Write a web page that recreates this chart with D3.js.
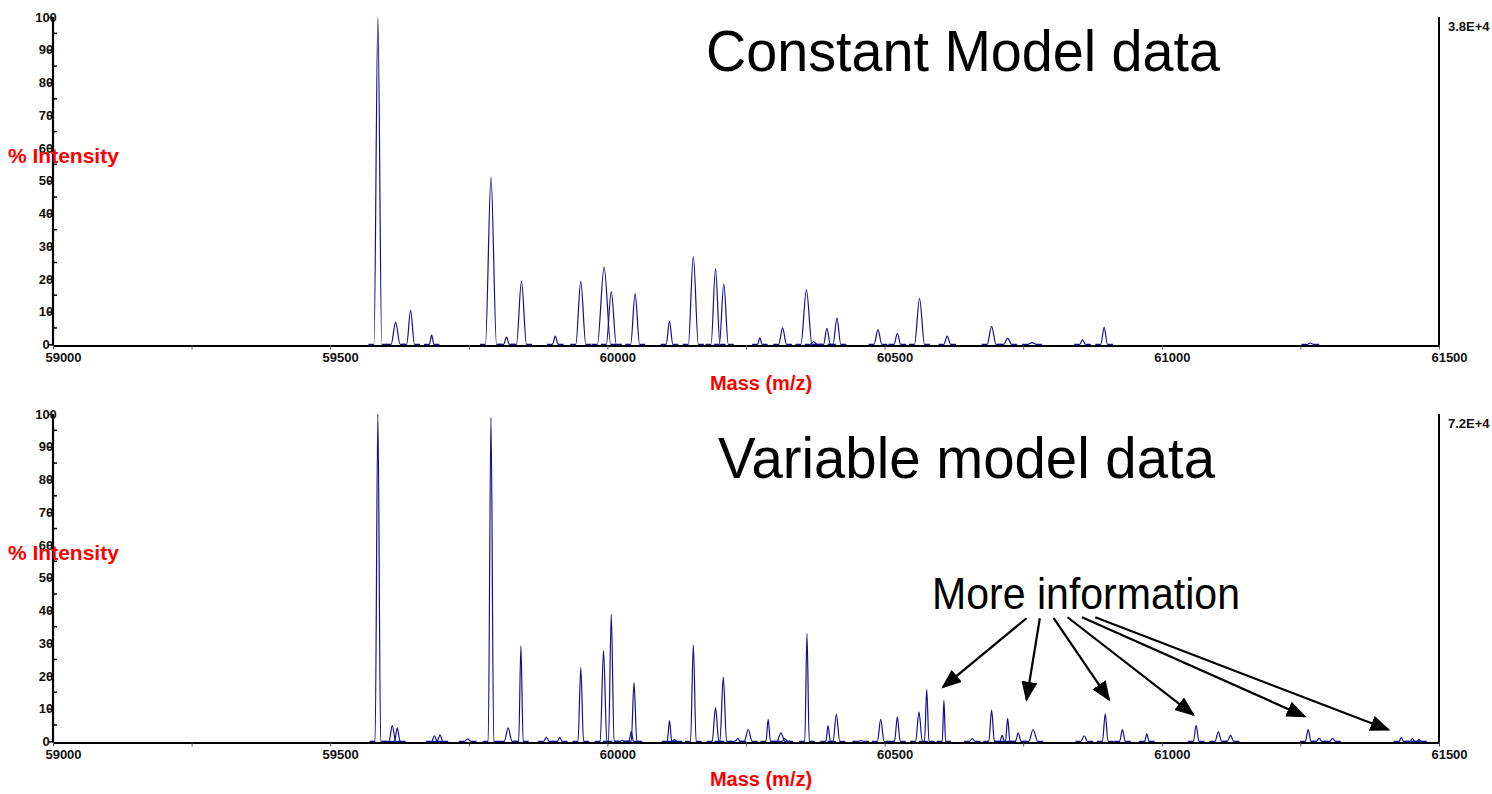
<!DOCTYPE html>
<html>
<head>
<meta charset="utf-8">
<script src="https://cdn.jsdelivr.net/npm/d3@7"></script>
<style>
  body { margin: 0; background: #fff; }
  svg { display: block; font-family: "Liberation Sans", Arial, sans-serif; }
</style>
</head>
<body>
<script>
// peak lists (mass in Da, % intensity, half base width in Da)
const topMass = [59586, 59618, 59645, 59683, 59790, 59818, 59845, 59906, 59952, 59994, 60007, 60050, 60112, 60155, 60195, 60210, 60275, 60316, 60359, 60372, 60396, 60414, 60488, 60523, 60563, 60613, 60693, 60722, 60766, 60857, 60896, 61268];
const topInt = [100, 6.8, 10.4, 2.8, 51.1, 2.2, 19.3, 2.5, 19.2, 23.6, 16.1, 15.5, 7.0, 26.9, 23.1, 18.5, 2.0, 5.0, 16.6, 0.8, 4.9, 8.0, 4.5, 3.3, 14.0, 2.5, 5.5, 1.9, 0.5, 1.4, 5.2, 0.4];
const topWidth = [7, 8, 7, 4, 10, 5, 9, 5, 9, 12, 9, 8, 6, 9, 8, 8, 4, 7, 10, 6, 6, 7, 7, 6, 9, 6, 8, 7, 8, 5, 6, 6];

const bottomMass = [59586, 59612, 59621, 59688, 59698, 59748, 59790, 59821, 59844, 59890, 59914, 59952, 59993, 60007, 60027, 60043, 60048, 60112, 60121, 60155, 60195, 60209, 60235, 60254, 60290, 60313, 60320, 60360, 60398, 60413, 60457, 60493, 60523, 60562, 60576, 60607, 60658, 60693, 60712, 60722, 60741, 60768, 60860, 60898, 60929, 60973, 61062, 61102, 61124, 61264, 61284, 61308, 61432, 61452, 61464];
const bottomInt = [100, 4.8, 4.1, 1.7, 2.0, 0.7, 98.8, 4.1, 29.2, 1.2, 1.2, 22.5, 27.7, 38.8, 0.3, 3.0, 17.9, 6.3, 0.5, 29.5, 10.3, 19.6, 0.8, 3.6, 6.7, 2.6, 0.8, 32.9, 4.8, 8.2, 0.2, 6.7, 7.5, 9.0, 15.9, 12.5, 0.8, 9.5, 1.8, 7.0, 2.6, 3.6, 1.7, 8.4, 3.6, 2.3, 4.9, 2.9, 1.8, 3.6, 0.9, 0.9, 1.1, 0.8, 0.5];
const bottomWidth = [5, 6, 5, 5, 5, 6, 5, 7, 4, 5, 4, 5, 6, 5, 4, 4, 5, 4, 4, 5, 6, 6, 5, 7, 4, 7, 5, 4, 4, 6, 5, 6, 5, 6, 4, 3, 5, 5, 4, 4, 5, 8, 6, 5, 5, 4, 5, 6, 6, 5, 5, 5, 4, 4, 4];

const xTickValues = [59000, 59500, 60000, 60500, 61000, 61500];
const yTickValues = [0, 10, 20, 30, 40, 50, 60, 70, 80, 90, 100];
const xDomain = [59000, 61500];

const titles = ["Constant Model data", "Variable model data"];
const scaleLabels = ["3.8E+4", "7.2E+4"];

// arrows in the lower panel: [mass, intensity] start -> tip
const arrowFrom = [[60756, 37.6], [60780, 37.6], [60805, 37.6], [60830, 37.9], [60856, 37.9], [60880, 37.9]];
const arrowTo = [[60605, 16.5], [60756, 12.7], [60905, 12.7], [61057, 8.1], [61258, 7.6], [61409, 3.5]];

const width = 1492, height = 794;
const xLeft = 53, xRight = 1439;
const lineColor = "#10108f";

const svg = d3.select("body").append("svg")
    .attr("width", width)
    .attr("height", height);

svg.append("defs").append("marker")
    .attr("id", "head")
    .attr("markerUnits", "userSpaceOnUse")
    .attr("markerWidth", 22).attr("markerHeight", 18)
    .attr("refX", 18).attr("refY", 8)
    .attr("orient", "auto")
  .append("path")
    .attr("d", "M0,0 L20,8 L0,16 Z")
    .attr("fill", "#000");

const x = d3.scaleLinear().domain(xDomain).range([xLeft, xRight]);

function drawPanel(p) {
    const y = d3.scaleLinear().domain([0, 100]).range([p.zero, p.top]);
    const g = svg.append("g");

    // x axis first, so the spectrum baseline sits on it
    const xa = g.append("g")
        .attr("transform", `translate(0,${p.axisY})`)
        .call(d3.axisBottom(x)
            .tickValues(d3.range(59000, 61501, 250))
            .tickSize(4)
            .tickSizeOuter(0)
            .tickFormat(d => xTickValues.includes(d) ? d : ""));
    xa.select(".domain").attr("stroke", "#000").attr("stroke-width", 2.2);
    xa.selectAll(".tick line").attr("stroke", "#555").attr("stroke-width", 1);
    xa.selectAll(".tick text")
        .attr("x", 10).attr("y", 7)
        .attr("font-size", 13).attr("font-weight", "bold")
        .attr("font-family", "Liberation Sans, Arial, sans-serif")
        .attr("fill", "#111");

    // spectrum, one little segment per peak
    const line = d3.line()
        .x(d => x(d[0]))
        .y(d => y(d[1]))
        .curve(d3.curveMonotoneX);
    const pad = 10;
    const peaks = p.mass.map((m, i) => [
        [m - p.w[i] - pad, 0], [m - p.w[i], 0], [m, p.inten[i]], [m + p.w[i], 0], [m + p.w[i] + pad, 0]
    ]);
    g.selectAll("path.peak")
        .data(peaks)
        .join("path")
        .attr("class", "peak")
        .attr("d", line)
        .attr("fill", "none")
        .attr("stroke", lineColor)
        .attr("stroke-width", 1.2);

    // y axis
    const ya = g.append("g")
        .attr("transform", `translate(${xLeft},0)`)
        .call(d3.axisLeft(y)
            .tickValues(yTickValues)
            .tickSize(5)
            .tickSizeOuter(0));
    ya.select(".domain").attr("stroke", "#000").attr("stroke-width", 2.2)
        .attr("d", `M0,${p.top}V${p.axisY}`);
    ya.selectAll(".tick line").attr("stroke", "#000").attr("stroke-width", 1.5);
    ya.selectAll(".tick text")
        .attr("x", -7)
        .attr("text-anchor", "middle")
        .attr("font-size", 13).attr("font-weight", "bold")
        .attr("font-family", "Liberation Sans, Arial, sans-serif")
        .attr("fill", "#111");
    ya.selectAll("line.minor")
        .data(d3.range(5, 100, 10))
        .join("line")
        .attr("class", "minor")
        .attr("x1", 0).attr("x2", 4)
        .attr("y1", d => y(d)).attr("y2", d => y(d))
        .attr("stroke", "#000").attr("stroke-width", 1.5);

    // right edge
    g.append("line")
        .attr("x1", xRight).attr("x2", xRight)
        .attr("y1", p.top).attr("y2", p.axisY)
        .attr("stroke", "#000").attr("stroke-width", 2);
    g.append("text")
        .attr("x", xRight + 9).attr("y", p.top + 14)
        .attr("font-size", 13).attr("font-weight", "bold")
        .attr("fill", "#111")
        .text(p.scale);

    // labels
    g.append("text")
        .attr("x", 8).attr("y", p.yLabelY)
        .attr("font-size", 21).attr("font-weight", "bold")
        .attr("fill", "#ff0000")
        .text("% Intensity");
    g.append("text")
        .attr("x", 761).attr("y", p.xLabelY)
        .attr("text-anchor", "middle")
        .attr("font-size", 20).attr("font-weight", "bold")
        .attr("fill", "#ff0000")
        .text("Mass (m/z)");

    g.append("text")
        .attr("x", p.titleX).attr("y", p.titleY)
        .attr("font-size", 57)
        .attr("textLength", p.titleLen)
        .attr("lengthAdjust", "spacingAndGlyphs")
        .attr("fill", "#000")
        .text(p.title);

    return y;
}

drawPanel({
    top: 17, zero: 344.3, axisY: 345.5,
    mass: topMass, inten: topInt, w: topWidth,
    title: titles[0], titleX: 706, titleY: 71, titleLen: 514,
    scale: scaleLabels[0], yLabelY: 163, xLabelY: 390
});

const yB = drawPanel({
    top: 414, zero: 741.3, axisY: 742.5,
    mass: bottomMass, inten: bottomInt, w: bottomWidth,
    title: titles[1], titleX: 718, titleY: 478, titleLen: 497,
    scale: scaleLabels[1], yLabelY: 560, xLabelY: 786
});

// annotation
svg.append("text")
    .attr("x", 932).attr("y", 609)
    .attr("font-size", 44)
    .attr("textLength", 308)
    .attr("lengthAdjust", "spacingAndGlyphs")
    .attr("fill", "#000")
    .text("More information");

svg.selectAll("line.arrow")
    .data(arrowFrom)
    .join("line")
    .attr("class", "arrow")
    .attr("x1", d => x(d[0])).attr("y1", d => yB(d[1]))
    .attr("x2", (d, i) => x(arrowTo[i][0])).attr("y2", (d, i) => yB(arrowTo[i][1]))
    .attr("stroke", "#000")
    .attr("stroke-width", 2.2)
    .attr("marker-end", "url(#head)");
</script>
</body>
</html>
